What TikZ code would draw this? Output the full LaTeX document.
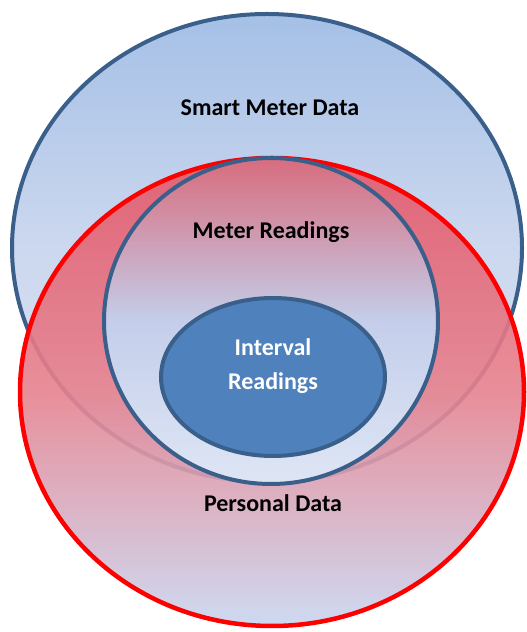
\documentclass[tikz,border=0pt]{standalone}
\usepackage{fontspec}
\setmainfont{Carlito}
\usetikzlibrary{shapes.geometric}

\definecolor{setblue}{HTML}{3A5F8B}
\definecolor{setred}{HTML}{FF0000}
\definecolor{innerblue}{HTML}{4F81BD}
\definecolor{smtop}{HTML}{A5C0E6}
\definecolor{smmid}{HTML}{CCD8EF}
\definecolor{smbot}{HTML}{DCE4F3}
\definecolor{pdtop}{HTML}{E4596B}
\definecolor{pdmid}{HTML}{E6828F}
\definecolor{pdbot}{HTML}{C8D6F0}
\definecolor{mrtop}{HTML}{D86C7E}
\definecolor{mrmid}{HTML}{C4CEEA}
\definecolor{mrbot}{HTML}{DEE6F5}

\begin{document}
\begin{tikzpicture}[
      x=1pt, y=1pt,
      set/.style  = {ellipse, inner sep=0pt, line width=4pt},
      lbl/.style  = {font=\fontsize{24}{28}\selectfont\bfseries, inner sep=0pt,
                     align=center},
    ]
    \useasboundingbox (0,0) rectangle (527,632);

    % outer sets
    \node[set, draw=setblue, top color=smtop, bottom color=smbot,
          middle color=smmid, minimum width=510pt, minimum height=468pt]
          (smart) at (267,384) {};
    \node[set, draw=setred, line width=4.5pt, fill opacity=0.9,
          top color=pdtop, bottom color=pdbot, middle color=pdmid,
          minimum width=504pt, minimum height=468pt]
          (personal) at (272,240) {};

    % nested sets
    \node[set, draw=setblue, top color=mrtop, bottom color=mrbot,
          middle color=mrmid, minimum width=334pt, minimum height=326pt]
          (meter) at (271,311) {};
    \node[set, draw=setblue, fill=innerblue, minimum width=224pt,
          minimum height=158pt] (interval) at (273,255) {};

    \node[lbl] (smartlbl) at (270,524) {Smart Meter Data};
    \node[lbl] (meterlbl) at (271,400) {Meter Readings};
    \node[lbl, text=white, font=\fontsize{24}{33.7}\selectfont\bfseries]
          (intervallbl) at (273,266) {Interval\\Readings};
    \node[lbl] (personallbl) at (273,129) {Personal Data};
  \end{tikzpicture}
\end{document}
